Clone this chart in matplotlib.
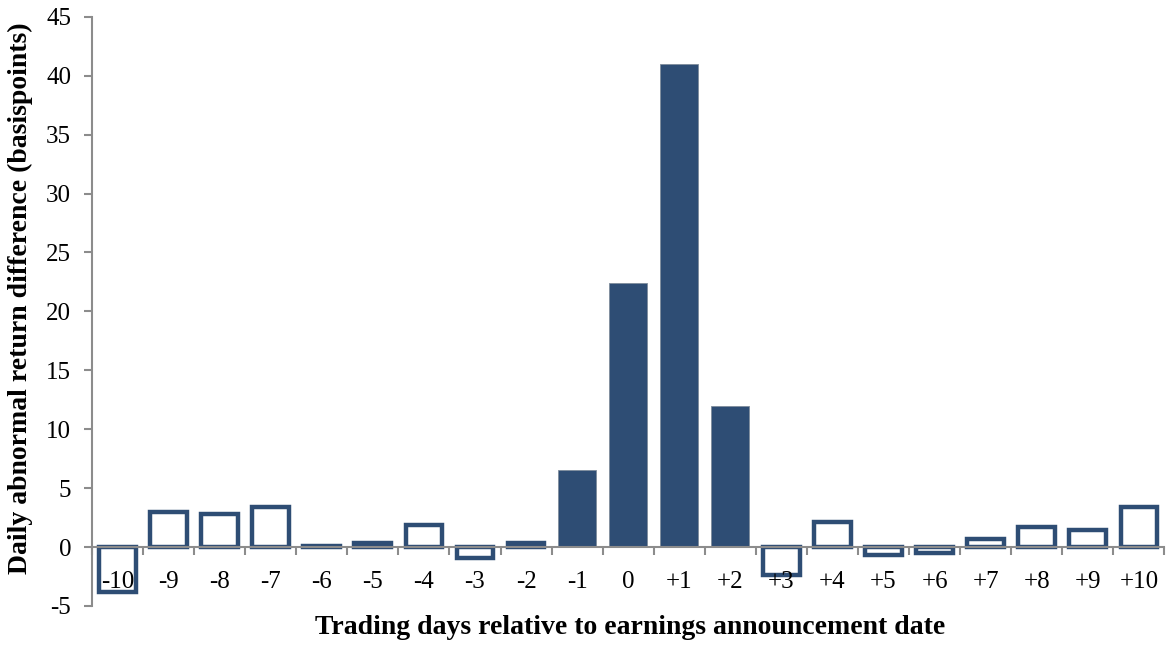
import matplotlib.pyplot as plt
import numpy as np

days = ['-10', '-9', '-8', '-7', '-6', '-5', '-4', '-3', '-2', '-1', '0',
        '+1', '+2', '+3', '+4', '+5', '+6', '+7', '+8', '+9', '+10']
returns_bp = [-3.8, 3.0, 2.8, 3.4, 0.1, 0.3, 1.9, -0.9, 0.3, 6.5, 22.4,
              41.0, 12.0, -2.4, 2.1, -0.7, -0.5, 0.7, 1.7, 1.45, 3.4]
filled = [False] * 9 + [True] * 4 + [False] * 8

navy = '#2E4D74'
grey = '#8C8C8C'

plt.rcParams['font.family'] = ['Liberation Serif', 'DejaVu Serif']
plt.rcParams['axes.unicode_minus'] = False

fig = plt.figure(figsize=(11.67, 6.46), dpi=100)
ax = fig.add_axes([0.0788, 0.062, 0.919, 0.912])
ax.set_axisbelow(False)

x = np.arange(len(days))
for xi, val, f in zip(x, returns_bp, filled):
    if f:
        ax.bar(xi, val, width=0.75, color=navy, edgecolor='#7F8C9C', linewidth=0.6, zorder=1)
    else:
        ax.bar(xi, val, width=0.72, facecolor='white', edgecolor=navy, linewidth=3.2, zorder=1)

ax.set_xlim(-0.5, len(days) - 0.5)
ax.set_ylim(-5, 45)
ax.set_yticks(np.arange(-5, 50, 5))

ax.spines['top'].set_visible(False)
ax.spines['right'].set_visible(False)
ax.spines['bottom'].set_position(('data', 0))
for s in ('left', 'bottom'):
    ax.spines[s].set_color(grey)
    ax.spines[s].set_linewidth(1.5)

ax.set_xticks(x)
ax.set_xticklabels(days)
ax.set_xticks(np.arange(-0.5, len(days), 1), minor=True)
ax.tick_params(axis='x', which='major', length=0, pad=17, labelsize=18)
ax.tick_params(axis='x', which='minor', length=6, width=1.5, color=grey, direction='out')
ax.tick_params(axis='y', length=6, width=1.5, color=grey, labelsize=18, pad=9)

ax.set_ylabel('Daily abnormal return difference (basispoints)', fontsize=20,
              fontweight='bold', va='center')
ax.yaxis.set_label_coords(-0.067, 0.522)
ax.set_xlabel('Trading days relative to earnings announcement date', fontsize=20,
              fontweight='bold', va='center')
ax.xaxis.set_label_coords(0.502, -0.036)

plt.savefig('out.png', dpi=100)
